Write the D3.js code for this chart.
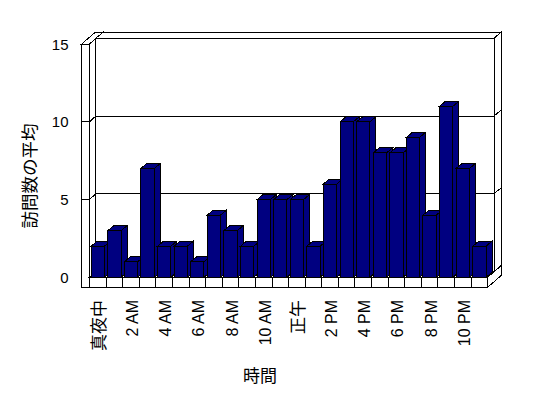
<!DOCTYPE html>
<html><head><meta charset="utf-8">
<script src="https://cdn.jsdelivr.net/npm/d3@7"></script>
<style>body{margin:0;background:#fff}svg{display:block}</style>
</head><body><svg id="c" width="548" height="398"></svg>
<script>
const categories = ["真夜中","1 AM","2 AM","3 AM","4 AM","5 AM","6 AM","7 AM","8 AM","9 AM","10 AM","11 AM",
  "正午","1 PM","2 PM","3 PM","4 PM","5 PM","6 PM","7 PM","8 PM","9 PM","10 PM","11 PM"];
const visits = [2,3,1,7,2,2,1,4,3,2,5,5,5,2,6,10,10,8,8,9,4,11,7,2];
const yTicks = [0,5,10,15];
const gridValues = [5,10];
const yTitle = "訪問数の平均";
const xTitle = "時間";

const svg = d3.select("#c");
svg.append("rect").attr("width",548).attr("height",398).attr("fill","#fff");

const X0 = 89.5, X1 = 487.7, Y0 = 277.3, YTOP = 44.05;
const DX = 6.3, DY = -5.8;   // floor depth
const BX = 7.2, BY = -6;     // back wall thickness
const T = 7.8, FT = 10;      // side wall / floor thickness
const BDX = 6, BDY = -5;     // bar depth

const x = d3.scaleBand().domain(categories).range([X0, X1]).paddingInner(0.2).paddingOuter(0.1);
const y = d3.scaleLinear().domain([0, 15]).range([Y0, YTOP]);
const step = x.step();
const yT = y(15);

const g = svg.append("g").attr("shape-rendering","crispEdges");
function poly(pts, fill){
  g.append("path").attr("d","M"+pts.map(p=>p.join(",")).join("L")+"Z")
   .attr("fill",fill||"#fff").attr("stroke","#000").attr("stroke-width",1);
}
function line(pts){
  g.append("path").attr("d","M"+pts.map(p=>p.join(",")).join("L"))
   .attr("fill","none").attr("stroke","#000").attr("stroke-width",1);
}
const ZX = DX+BX, ZY = DY+BY;

// left wall
poly([[X0-T,yT],[X0,yT],[X0+ZX,yT+ZY],[X0-T+ZX,yT+ZY]]);
poly([[X0,yT],[X0+ZX,yT+ZY],[X0+ZX,Y0+FT+ZY],[X0,Y0+FT]]);
poly([[X0-T,yT],[X0,yT],[X0,Y0+FT],[X0-T,Y0+FT]]);
// floor
poly([[X0,Y0],[X1,Y0],[X1+ZX,Y0+ZY],[X0+ZX,Y0+ZY]]);
poly([[X1,Y0],[X1+ZX,Y0+ZY],[X1+ZX,Y0+FT+ZY],[X1,Y0+FT]]);
poly([[X0,Y0],[X1,Y0],[X1,Y0+FT],[X0,Y0+FT]]);
// back wall
poly([[X0+DX,yT+DY],[X1+DX,yT+DY],[X1+ZX,yT+ZY],[X0+ZX,yT+ZY]]);
poly([[X1+DX,yT+DY],[X1+ZX,yT+ZY],[X1+ZX,Y0+ZY],[X1+DX,Y0+DY]]);
poly([[X0+DX,yT+DY],[X1+DX,yT+DY],[X1+DX,Y0+DY],[X0+DX,Y0+DY]]);

// gridlines
gridValues.forEach(v=>{
  const yy = y(v);
  line([[X0-T,yy],[X0,yy],[X0+DX,yy+DY],[X1+DX,yy+DY],[X1+ZX,yy+ZY]]);
});

// floor dividers
for(let i=1;i<categories.length;i++){
  const xx = X0 + i*step;
  line([[xx,Y0],[xx,Y0+FT]]);
}

// bars
const w = x.bandwidth();
categories.forEach((c,i)=>{
  const x0 = x(c), yt = y(visits[i]);
  const col = "#000080";
  poly([[x0+w,yt],[x0+w+BDX,yt+BDY],[x0+w+BDX,Y0+BDY],[x0+w,Y0]], col);
  poly([[x0,yt],[x0+w,yt],[x0+w+BDX,yt+BDY],[x0+BDX,yt+BDY]], col);
  poly([[x0,yt],[x0+w,yt],[x0+w,Y0],[x0,Y0]], col);
});

const font = "'Liberation Sans', Arial, 'Noto Sans CJK JP', sans-serif";
// y tick labels
svg.append("g").selectAll("text").data(yTicks).join("text")
  .attr("x",68.5).attr("y",d=>y(d)).attr("text-anchor","end")
  .attr("dominant-baseline","central").attr("font-family",font).attr("font-size",15)
  .text(d=>d);

// x tick labels (every other)
svg.append("g").selectAll("text").data(categories.filter((c,i)=>i%2===0)).join("text")
  .attr("transform",d=>`translate(${x(d)+w/2+1.5},300) rotate(-90)`)
  .attr("text-anchor","end").attr("dominant-baseline","central")
  .attr("font-family",font)
  .attr("font-size",d=>/[A-Z]/.test(d)?16:17)
  .text(d=>d);

// axis titles
svg.append("text").attr("x",260).attr("y",376).attr("text-anchor","middle")
  .attr("dominant-baseline","central").attr("font-family",font).attr("font-size",17).text(xTitle);
svg.append("text").attr("transform","translate(30,176) rotate(-90)").attr("text-anchor","middle")
  .attr("dominant-baseline","central").attr("font-family",font).attr("font-size",17.5).text(yTitle);
</script></body></html>
